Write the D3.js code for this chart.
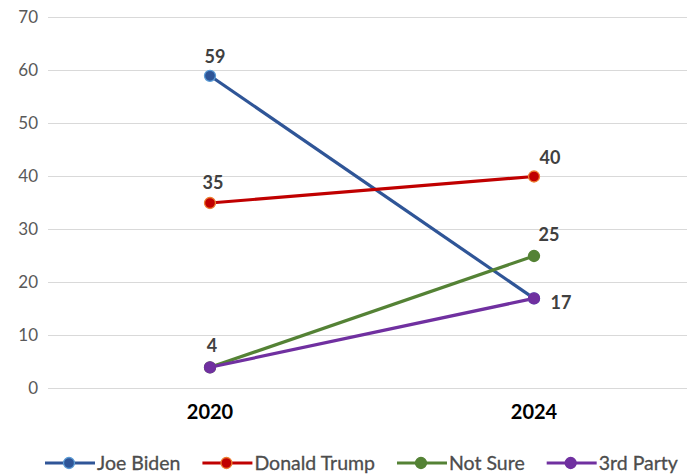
<!DOCTYPE html>
<html>
<head>
<meta charset="utf-8">
<script src="https://cdn.jsdelivr.net/npm/d3@7"></script>
<style>
  html, body { margin: 0; padding: 0; background: #ffffff; }
  svg { display: block; font-family: "Lato", "Open Sans", sans-serif; }
</style>
</head>
<body>
<svg id="chart" width="687" height="475"></svg>
<script>
// Survey years and the share of respondents per choice
const years = ["2020", "2024"];
const seriesNames = ["Joe Biden", "Donald Trump", "Not Sure", "3rd Party"];
const bidenValues = [59, 17];
const trumpValues = [35, 40];
const notSureValues = [4, 25];
const thirdPartyValues = [4, 17];
const yTicks = [0, 10, 20, 30, 40, 50, 60, 70];

const lineColors = ["#2F5597", "#C00000", "#548235", "#7030A0"];
const markerStrokes = ["#5B9BD5", "#ED7D31", "#548235", "#7030A0"];
// label placement for each point: [dx, dy, anchor]
const labelPlacement = [
  [[5, -13, "middle"], [0, 0, "none"]],
  [[3, -14, "middle"], [16, -13, "middle"]],
  [[0, 0, "none"], [15, -15, "middle"]],
  [[2, -15, "middle"], [27, 11, "middle"]]
];

const series = seriesNames.map((name, i) => ({
  name,
  values: [bidenValues, trumpValues, notSureValues, thirdPartyValues][i],
  color: lineColors[i],
  stroke: markerStrokes[i],
  labels: labelPlacement[i]
}));

const svg = d3.select("#chart");
const margin = { left: 48, top: 17.5, plotW: 648, plotH: 371 };

const x = d3.scaleBand().domain(years).range([margin.left, margin.left + margin.plotW]);
const y = d3.scaleLinear().domain([0, 70]).range([margin.top + margin.plotH, margin.top]);
const cx = d => x(d) + x.bandwidth() / 2;

// horizontal gridlines
svg.append("g")
  .selectAll("line")
  .data(yTicks)
  .join("line")
  .attr("x1", margin.left)
  .attr("x2", margin.left + margin.plotW)
  .attr("y1", d => y(d))
  .attr("y2", d => y(d))
  .attr("stroke", "#D9D9D9")
  .attr("stroke-width", 1.2);

// y axis labels
const yAxis = d3.axisLeft(y).tickValues(yTicks).tickSize(0).tickPadding(0);
const yg = svg.append("g").attr("transform", `translate(${margin.left - 10},0)`).call(yAxis);
yg.select(".domain").remove();
yg.selectAll("text")
  .attr("font-size", 17)
  .attr("fill", "#595959")
  .attr("font-family", "Lato, sans-serif");

// x axis labels
const xAxis = d3.axisBottom(x).tickSize(0).tickPadding(0);
const xg = svg.append("g").attr("transform", `translate(0,${y(0) + 16})`).call(xAxis);
xg.select(".domain").remove();
xg.selectAll("text")
  .attr("font-size", 20)
  .attr("font-weight", "bold")
  .attr("fill", "#000000")
  .attr("font-family", "Lato, sans-serif");

// lines
const line = d3.line().x((d, i) => cx(years[i])).y(d => y(d));
svg.append("g")
  .selectAll("path")
  .data(series)
  .join("path")
  .attr("d", d => line(d.values))
  .attr("fill", "none")
  .attr("stroke", d => d.color)
  .attr("stroke-width", 3.2);

// markers
series.forEach(s => {
  svg.append("g")
    .selectAll("circle")
    .data(s.values)
    .join("circle")
    .attr("cx", (d, i) => cx(years[i]))
    .attr("cy", d => y(d))
    .attr("r", 5.5)
    .attr("fill", s.color)
    .attr("stroke", s.stroke)
    .attr("stroke-width", 1.3);
});

// data labels
series.forEach(s => {
  s.values.forEach((v, i) => {
    const p = s.labels[i];
    if (!p || p[2] === "none") return;
    svg.append("text")
      .attr("x", cx(years[i]) + p[0])
      .attr("y", y(v) + p[1])
      .attr("text-anchor", p[2])
      .attr("font-size", 18)
      .attr("font-weight", "bold")
      .attr("fill", "#404040")
      .text(v);
  });
});

// legend
const legend = svg.append("g").attr("transform", "translate(0,463)");
let lx = 45;
series.forEach(s => {
  const g = legend.append("g").attr("transform", `translate(${lx},0)`);
  g.append("line").attr("x1", 0).attr("x2", 50).attr("y1", 0).attr("y2", 0)
    .attr("stroke", s.color).attr("stroke-width", 3.2);
  g.append("circle").attr("cx", 24).attr("cy", 0).attr("r", 5.5)
    .attr("fill", s.color).attr("stroke", s.stroke).attr("stroke-width", 1.3);
  const t = g.append("text").attr("x", 52).attr("y", 7)
    .attr("font-size", 19.5).attr("fill", "#4D4D4D")
    .attr("stroke", "#4D4D4D").attr("stroke-width", 0.3)
    .text(s.name);
  const w = t.node().getComputedTextLength();
  lx += 52 + w + 22;
});
</script>
</body>
</html>
